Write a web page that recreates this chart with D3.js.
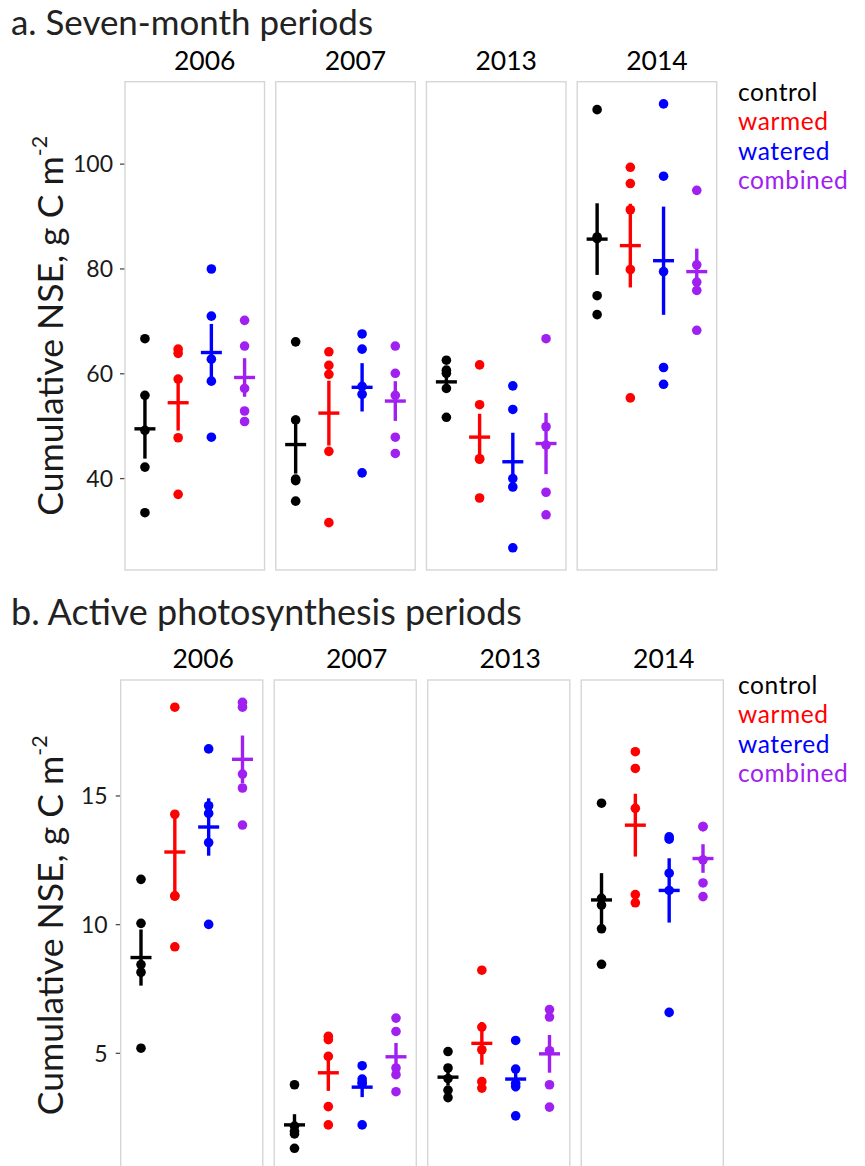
<!DOCTYPE html>
<html>
<head>
<meta charset="utf-8">
<script src="https://cdn.jsdelivr.net/npm/d3@7/dist/d3.min.js"></script>
<style>
  html, body { margin: 0; padding: 0; background: #fff; }
  svg { display: block; }
  text { font-family: Lato, "Open Sans", "DejaVu Sans", sans-serif; }
</style>
</head>
<body>
<svg id="chart" width="865" height="1166"></svg>
<script>
// ---------------- data ----------------
const years = ["2006", "2007", "2013", "2014"];
const treatments = ["control", "warmed", "watered", "combined"];
const treatmentColors = ["#000000", "#FF0000", "#0000FF", "#A020F0"];

// a. Seven-month periods (g C m-2), one array per treatment: control, warmed, watered, combined
const seven2006 = [[66.6, 55.8, 49.1, 42.1, 33.4], [64.6, 63.8, 58.9, 47.7, 36.9], [79.9, 70.9, 62.7, 58.5, 47.8], [70.1, 65.2, 57.1, 52.8, 50.8]];
const seven2007 = [[66.0, 51.1, 39.8, 39.5, 35.6], [64.1, 61.5, 59.8, 45.1, 31.5], [67.5, 64.6, 57.5, 56.0, 41.0], [65.2, 60.0, 55.8, 47.8, 44.7]];
const seven2013 = [[62.5, 60.6, 60.0, 57.1, 51.6], [61.6, 54.0, 43.7, 43.6, 36.2], [57.6, 53.1, 39.9, 38.3, 26.7], [66.6, 49.8, 46.3, 37.3, 33.0]];
const seven2014 = [[110.3, 86.0, 85.7, 74.8, 71.2], [99.3, 96.2, 91.2, 79.8, 55.3], [111.4, 97.6, 79.4, 61.1, 57.9], [94.9, 80.7, 77.4, 75.8, 68.2]];

// b. Active photosynthesis periods (g C m-2)
const active2006 = [[11.74, 10.03, 8.43, 8.13, 5.18], [18.43, 14.27, 11.1, 11.09, 9.12], [16.81, 14.6, 14.3, 13.17, 9.99], [18.62, 18.43, 15.83, 15.29, 13.85]];
const active2007 = [[3.76, 2.15, 1.95, 1.85, 1.29], [5.64, 5.51, 4.86, 2.91, 2.2], [4.5, 3.98, 3.85, 3.8, 2.2], [6.35, 5.83, 4.41, 4.15, 3.49]];
const active2013 = [[5.05, 4.41, 4.0, 3.55, 3.26], [8.21, 6.0, 5.12, 3.88, 3.63], [5.48, 4.37, 3.81, 3.69, 2.55], [6.68, 6.39, 5.08, 3.76, 2.89]];
const active2014 = [[14.70, 11.0, 10.74, 9.82, 8.44], [16.70, 16.05, 14.5, 11.15, 10.83], [13.39, 13.3, 11.98, 11.31, 6.57], [13.79, 13.79, 12.5, 11.6, 11.07]];

const sevenTicks = [40, 60, 80, 100];
const activeTicks = [5, 10, 15];

// ---------------- layout ----------------
const svg = d3.select("#chart");
const FONT = 'Lato, "Open Sans", "DejaVu Sans", sans-serif';

const panels = [
  { title: "a. Seven-month periods", titleY: 35, titleW: 362,
    data: [seven2006, seven2007, seven2013, seven2014], ticks: sevenTicks,
    top: 81.7, bottom: 570, left: 125, right: 716.7, stripY: 70, stripShift: 10,
    legendY: 100.5, labelGap: 12 },
  { title: "b. Active photosynthesis periods", titleY: 625, titleW: 511,
    data: [active2006, active2007, active2013, active2014], ticks: activeTicks,
    top: 680, bottom: 1170.6, left: 120.7, right: 723.3, stripY: 668, stripShift: 11.5,
    legendY: 693.5, labelGap: 13 }
];

function fitWidth(sel, target) {
  const node = sel.node();
  const fs = parseFloat(sel.attr("font-size"));
  const w = node.getComputedTextLength();
  if (w > 0) sel.attr("font-size", (fs * target / w).toFixed(2));
  return sel;
}

panels.forEach(p => {
  const g = svg.append("g");

  // title
  const t = g.append("text")
    .attr("x", 11).attr("y", p.titleY)
    .attr("font-size", 28).attr("fill", "#222")
    .text(p.title);
  fitWidth(t, p.titleW);

  // scales
  const all = p.data.flat(2);
  const ext = d3.extent(all);
  const pad = (ext[1] - ext[0]) * 0.05;
  const y = d3.scaleLinear().domain([ext[0] - pad, ext[1] + pad]).range([p.bottom, p.top]);
  const fx = d3.scaleBand().domain(years).range([p.left, p.right]).paddingInner(0.0744).paddingOuter(0);
  const bw = fx.bandwidth();
  const x = d3.scalePoint().domain(treatments).range([0, bw]).padding(0.6);

  // y axis title
  const yc = (p.top + p.bottom) / 2;
  const at = g.append("text")
    .attr("transform", `translate(63,${yc}) rotate(-90)`)
    .attr("text-anchor", "middle")
    .attr("font-size", 34).attr("fill", "#1a1a1a");
  at.append("tspan").text("Cumulative NSE, g C m");
  at.append("tspan").attr("font-size", "0.6em").attr("dy", "-0.75em").text("-2");
  fitWidth(at, 380);

  // y axis
  const axis = d3.axisLeft(y).tickValues(p.ticks).tickSize(5).tickPadding(p.labelGap - 5).tickFormat(d3.format("d"));
  const ag = g.append("g").attr("transform", `translate(${p.left},0)`).call(axis);
  ag.select(".domain").remove();
  ag.selectAll(".tick line").attr("stroke", "#4d4d4d").attr("stroke-width", 1.3);
  ag.selectAll(".tick text").attr("font-family", FONT).attr("font-size", 23).attr("fill", "#1a1a1a")
    .attr("dy", "0.36em");

  years.forEach((yr, yi) => {
    const px = fx(yr);
    const pg = g.append("g").attr("transform", `translate(${px},0)`);

    // strip label
    pg.append("text")
      .attr("x", bw / 2 + p.stripShift).attr("y", p.stripY)
      .attr("text-anchor", "middle").attr("font-size", 26.5).attr("fill", "#000")
      .text(yr);

    // panel border
    pg.append("rect")
      .attr("x", 0).attr("y", p.top)
      .attr("width", bw).attr("height", p.bottom - p.top)
      .attr("fill", "none").attr("stroke", "#d6d6d6").attr("stroke-width", 1.4);

    const groups = p.data[yi];
    // points
    groups.forEach((vals, ti) => {
      pg.selectAll(null).data(vals).enter().append("circle")
        .attr("cx", x(treatments[ti]))
        .attr("cy", d => y(d))
        .attr("r", 4.8)
        .attr("fill", treatmentColors[ti]);
    });
    // mean +/- SE
    groups.forEach((vals, ti) => {
      const m = d3.mean(vals);
      const se = d3.deviation(vals) / Math.sqrt(vals.length);
      const cx = x(treatments[ti]);
      pg.append("line")
        .attr("x1", cx).attr("x2", cx)
        .attr("y1", y(m - se)).attr("y2", y(m + se))
        .attr("stroke", treatmentColors[ti]).attr("stroke-width", 3.4);
      pg.append("line")
        .attr("x1", cx - 10.5).attr("x2", cx + 10.5)
        .attr("y1", y(m)).attr("y2", y(m))
        .attr("stroke", treatmentColors[ti]).attr("stroke-width", 3.4);
    });
  });

  // legend
  treatments.forEach((tr, i) => {
    g.append("text")
      .attr("x", 738).attr("y", p.legendY + i * 29.5)
      .attr("font-size", 24.5).attr("letter-spacing", 0.6).attr("fill", treatmentColors[i])
      .text(tr);
  });
});
</script>
</body>
</html>
